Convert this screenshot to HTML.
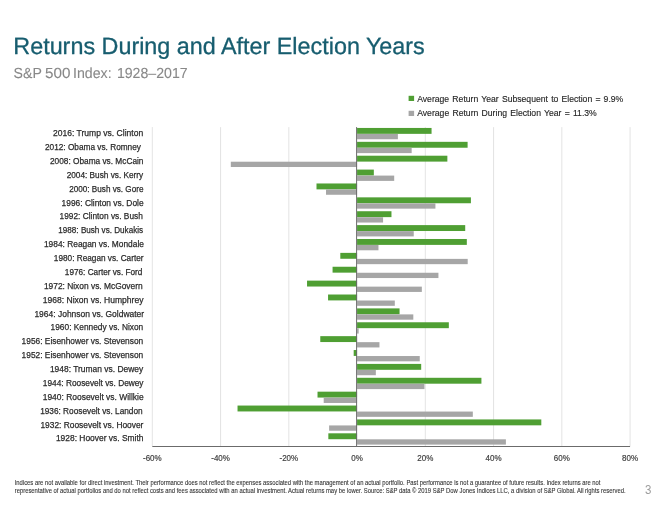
<!DOCTYPE html>
<html><head><meta charset="utf-8"><style>
html,body{margin:0;padding:0;background:#fff;}
body{width:668px;height:505px;overflow:hidden;position:relative;}
svg{position:absolute;left:0;top:0;will-change:transform;}
text{font-family:"Liberation Sans",sans-serif;white-space:pre;}
.lbl{font-size:9.2px;fill:#2a2a2a;stroke:#2a2a2a;stroke-width:0.25px;}
.ax{font-size:9.3px;fill:#404040;stroke:#404040;stroke-width:0.2px;text-anchor:middle;}
.lg{font-size:9.8px;fill:#262626;stroke:#262626;stroke-width:0.15px;word-spacing:0.9px;}
.fn{font-size:7px;fill:#333;stroke:#333;stroke-width:0.1px;}
</style></head><body>
<svg width="668" height="505" viewBox="0 0 668 505">
<text x="13.3" y="53.6" font-size="23.5" fill="#175d6f" text-rendering="geometricPrecision" stroke="#175d6f" stroke-width="0.3" textLength="411.5" lengthAdjust="spacingAndGlyphs">Returns During and After Election Years</text>
<g font-size="14.6" text-rendering="geometricPrecision" fill="#888" stroke="#888" stroke-width="0.1">
<text x="13.6" y="78.3" textLength="28.2" lengthAdjust="spacingAndGlyphs">S&amp;P</text>
<text x="45" y="78.3" textLength="25.4" lengthAdjust="spacingAndGlyphs">500</text>
<text x="73" y="78.3" textLength="38.6" lengthAdjust="spacingAndGlyphs">Index:</text>
<text x="116.9" y="78.3" textLength="70.8" lengthAdjust="spacingAndGlyphs">1928–2017</text>
</g>
<rect x="408.6" y="95.8" width="5.5" height="5.2" fill="#4f9f33"/>
<rect x="408.6" y="110.8" width="5.5" height="5.2" fill="#a6a6a6"/>
<text x="417.2" y="101.7" class="lg" textLength="206.1" lengthAdjust="spacingAndGlyphs">Average Return Year Subsequent to Election = 9.9%</text>
<text x="417.2" y="116.4" class="lg" textLength="179.6" lengthAdjust="spacingAndGlyphs">Average Return During Election Year = 11.3%</text>
<line x1="152.32" y1="127.1" x2="152.32" y2="446.1" stroke="#d9d9d9" stroke-width="0.75"/>
<line x1="220.57" y1="127.1" x2="220.57" y2="446.1" stroke="#d9d9d9" stroke-width="0.75"/>
<line x1="288.82" y1="127.1" x2="288.82" y2="446.1" stroke="#d9d9d9" stroke-width="0.75"/>
<line x1="425.32" y1="127.1" x2="425.32" y2="446.1" stroke="#d9d9d9" stroke-width="0.75"/>
<line x1="493.57" y1="127.1" x2="493.57" y2="446.1" stroke="#d9d9d9" stroke-width="0.75"/>
<line x1="561.82" y1="127.1" x2="561.82" y2="446.1" stroke="#d9d9d9" stroke-width="0.75"/>
<line x1="630.07" y1="127.1" x2="630.07" y2="446.1" stroke="#d9d9d9" stroke-width="0.75"/>
<rect x="357.07" y="127.95" width="74.49" height="5.9" fill="#4f9f33"/>
<rect x="357.07" y="133.95" width="40.81" height="5.3" fill="#a6a6a6"/>
<text x="53.02" y="136.23" class="lbl" textLength="90.17" lengthAdjust="spacingAndGlyphs">2016: Trump vs. Clinton</text>
<rect x="357.07" y="141.83" width="110.53" height="5.9" fill="#4f9f33"/>
<rect x="357.07" y="147.83" width="54.6" height="5.3" fill="#a6a6a6"/>
<text x="44.96" y="150.1" class="lbl" textLength="95.99" lengthAdjust="spacingAndGlyphs">2012: Obama vs. Romney</text>
<rect x="357.07" y="155.71" width="90.29" height="5.9" fill="#4f9f33"/>
<rect x="230.81" y="161.71" width="126.26" height="5.3" fill="#a6a6a6"/>
<text x="49.96" y="163.97" class="lbl" textLength="93.5" lengthAdjust="spacingAndGlyphs">2008: Obama vs. McCain</text>
<rect x="357.07" y="169.59" width="16.76" height="5.9" fill="#4f9f33"/>
<rect x="357.07" y="175.59" width="37.13" height="5.3" fill="#a6a6a6"/>
<text x="66.65" y="177.84" class="lbl" textLength="76.53" lengthAdjust="spacingAndGlyphs">2004: Bush vs. Kerry</text>
<rect x="316.5" y="183.47" width="40.57" height="5.9" fill="#4f9f33"/>
<rect x="326.02" y="189.47" width="31.05" height="5.3" fill="#a6a6a6"/>
<text x="69.25" y="191.71" class="lbl" textLength="74.18" lengthAdjust="spacingAndGlyphs">2000: Bush vs. Gore</text>
<rect x="357.07" y="197.35" width="113.84" height="5.9" fill="#4f9f33"/>
<rect x="357.07" y="203.35" width="78.35" height="5.3" fill="#a6a6a6"/>
<text x="61.61" y="205.58" class="lbl" textLength="82" lengthAdjust="spacingAndGlyphs">1996: Clinton vs. Dole</text>
<rect x="357.07" y="211.23" width="34.4" height="5.9" fill="#4f9f33"/>
<rect x="357.07" y="217.23" width="26" height="5.3" fill="#a6a6a6"/>
<text x="59.62" y="219.45" class="lbl" textLength="83.18" lengthAdjust="spacingAndGlyphs">1992: Clinton vs. Bush</text>
<rect x="357.07" y="225.11" width="108.14" height="5.9" fill="#4f9f33"/>
<rect x="357.07" y="231.11" width="56.68" height="5.3" fill="#a6a6a6"/>
<text x="58.34" y="233.32" class="lbl" textLength="84.76" lengthAdjust="spacingAndGlyphs">1988: Bush vs. Dukakis</text>
<rect x="357.07" y="238.99" width="109.75" height="5.9" fill="#4f9f33"/>
<rect x="357.07" y="244.99" width="21.4" height="5.3" fill="#a6a6a6"/>
<text x="43.94" y="247.19" class="lbl" textLength="100.01" lengthAdjust="spacingAndGlyphs">1984: Reagan vs. Mondale</text>
<rect x="340.31" y="252.87" width="16.76" height="5.9" fill="#4f9f33"/>
<rect x="357.07" y="258.87" width="110.63" height="5.3" fill="#a6a6a6"/>
<text x="53.83" y="261.06" class="lbl" textLength="89.68" lengthAdjust="spacingAndGlyphs">1980: Reagan vs. Carter</text>
<rect x="332.57" y="266.75" width="24.5" height="5.9" fill="#4f9f33"/>
<rect x="357.07" y="272.75" width="81.35" height="5.3" fill="#a6a6a6"/>
<text x="64.84" y="274.93" class="lbl" textLength="77.59" lengthAdjust="spacingAndGlyphs">1976: Carter vs. Ford</text>
<rect x="307.04" y="280.63" width="50.03" height="5.9" fill="#4f9f33"/>
<rect x="357.07" y="286.63" width="64.77" height="5.3" fill="#a6a6a6"/>
<text x="43.9" y="288.8" class="lbl" textLength="98.77" lengthAdjust="spacingAndGlyphs">1972: Nixon vs. McGovern</text>
<rect x="328.06" y="294.51" width="29.01" height="5.9" fill="#4f9f33"/>
<rect x="357.07" y="300.51" width="37.74" height="5.3" fill="#a6a6a6"/>
<text x="42.7" y="302.67" class="lbl" textLength="100.77" lengthAdjust="spacingAndGlyphs">1968: Nixon vs. Humphrey</text>
<rect x="357.07" y="308.39" width="42.49" height="5.9" fill="#4f9f33"/>
<rect x="357.07" y="314.39" width="56.24" height="5.3" fill="#a6a6a6"/>
<text x="34.41" y="316.54" class="lbl" textLength="109.71" lengthAdjust="spacingAndGlyphs">1964: Johnson vs. Goldwater</text>
<rect x="357.07" y="322.27" width="91.76" height="5.9" fill="#4f9f33"/>
<rect x="357.07" y="328.27" width="1.6" height="5.3" fill="#a6a6a6"/>
<text x="50.61" y="330.41" class="lbl" textLength="92.61" lengthAdjust="spacingAndGlyphs">1960: Kennedy vs. Nixon</text>
<rect x="320.28" y="336.15" width="36.79" height="5.9" fill="#4f9f33"/>
<rect x="357.07" y="342.15" width="22.39" height="5.3" fill="#a6a6a6"/>
<text x="21.6" y="344.28" class="lbl" textLength="121.62" lengthAdjust="spacingAndGlyphs">1956: Eisenhower vs. Stevenson</text>
<rect x="353.69" y="350.03" width="3.38" height="5.9" fill="#4f9f33"/>
<rect x="357.07" y="356.03" width="62.69" height="5.3" fill="#a6a6a6"/>
<text x="21.6" y="358.15" class="lbl" textLength="121.62" lengthAdjust="spacingAndGlyphs">1952: Eisenhower vs. Stevenson</text>
<rect x="357.07" y="363.91" width="64.12" height="5.9" fill="#4f9f33"/>
<rect x="357.07" y="369.91" width="18.77" height="5.3" fill="#a6a6a6"/>
<text x="49.88" y="372.02" class="lbl" textLength="93.3" lengthAdjust="spacingAndGlyphs">1948: Truman vs. Dewey</text>
<rect x="357.07" y="377.79" width="124.35" height="5.9" fill="#4f9f33"/>
<rect x="357.07" y="383.79" width="67.4" height="5.3" fill="#a6a6a6"/>
<text x="42.83" y="385.89" class="lbl" textLength="100.7" lengthAdjust="spacingAndGlyphs">1944: Roosevelt vs. Dewey</text>
<rect x="317.52" y="391.67" width="39.55" height="5.9" fill="#4f9f33"/>
<rect x="323.7" y="397.67" width="33.37" height="5.3" fill="#a6a6a6"/>
<text x="42.7" y="399.76" class="lbl" textLength="100.94" lengthAdjust="spacingAndGlyphs">1940: Roosevelt vs. Willkie</text>
<rect x="237.53" y="405.55" width="119.54" height="5.9" fill="#4f9f33"/>
<rect x="357.07" y="411.55" width="115.75" height="5.3" fill="#a6a6a6"/>
<text x="40.14" y="413.63" class="lbl" textLength="102.52" lengthAdjust="spacingAndGlyphs">1936: Roosevelt vs. Landon</text>
<rect x="357.07" y="419.43" width="184.24" height="5.9" fill="#4f9f33"/>
<rect x="329.12" y="425.43" width="27.95" height="5.3" fill="#a6a6a6"/>
<text x="40.41" y="427.5" class="lbl" textLength="103.02" lengthAdjust="spacingAndGlyphs">1932: Roosevelt vs. Hoover</text>
<rect x="328.34" y="433.31" width="28.73" height="5.9" fill="#4f9f33"/>
<rect x="357.07" y="439.31" width="148.82" height="5.3" fill="#a6a6a6"/>
<text x="55.89" y="441.37" class="lbl" textLength="87.64" lengthAdjust="spacingAndGlyphs">1928: Hoover vs. Smith</text>
<line x1="356.6" y1="127.1" x2="356.6" y2="446.1" stroke="#6b6b6b" stroke-width="1"/>
<line x1="152.32" y1="446.5" x2="630.07" y2="446.5" stroke="#6b6b6b" stroke-width="1"/>
<text x="152.32" y="460.8" class="ax" textLength="18.67" lengthAdjust="spacingAndGlyphs">-60%</text>
<text x="220.57" y="460.8" class="ax" textLength="18.67" lengthAdjust="spacingAndGlyphs">-40%</text>
<text x="288.82" y="460.8" class="ax" textLength="18.67" lengthAdjust="spacingAndGlyphs">-20%</text>
<text x="357.07" y="460.8" class="ax" textLength="11.56" lengthAdjust="spacingAndGlyphs">0%</text>
<text x="425.32" y="460.8" class="ax" textLength="16.01" lengthAdjust="spacingAndGlyphs">20%</text>
<text x="493.57" y="460.8" class="ax" textLength="16.01" lengthAdjust="spacingAndGlyphs">40%</text>
<text x="561.82" y="460.8" class="ax" textLength="16.01" lengthAdjust="spacingAndGlyphs">60%</text>
<text x="630.07" y="460.8" class="ax" textLength="16.01" lengthAdjust="spacingAndGlyphs">80%</text>
<text x="14.7" y="485" class="fn" textLength="585.8" lengthAdjust="spacingAndGlyphs">Indices are not available for direct investment. Their performance does not reflect the expenses associated with the management of an actual portfolio. Past performance is not a guarantee of future results. Index returns are not</text>
<text x="14.7" y="492.8" class="fn" textLength="610.9" lengthAdjust="spacingAndGlyphs">representative of actual portfolios and do not reflect costs and fees associated with an actual investment. Actual returns may be lower. Source: S&amp;P data © 2019 S&amp;P Dow Jones Indices LLC, a division of S&amp;P Global. All rights reserved.</text>
<text x="645" y="493.9" font-size="12" fill="#9c9c9c" textLength="6.4" lengthAdjust="spacingAndGlyphs">3</text>
</svg>
</body></html>
